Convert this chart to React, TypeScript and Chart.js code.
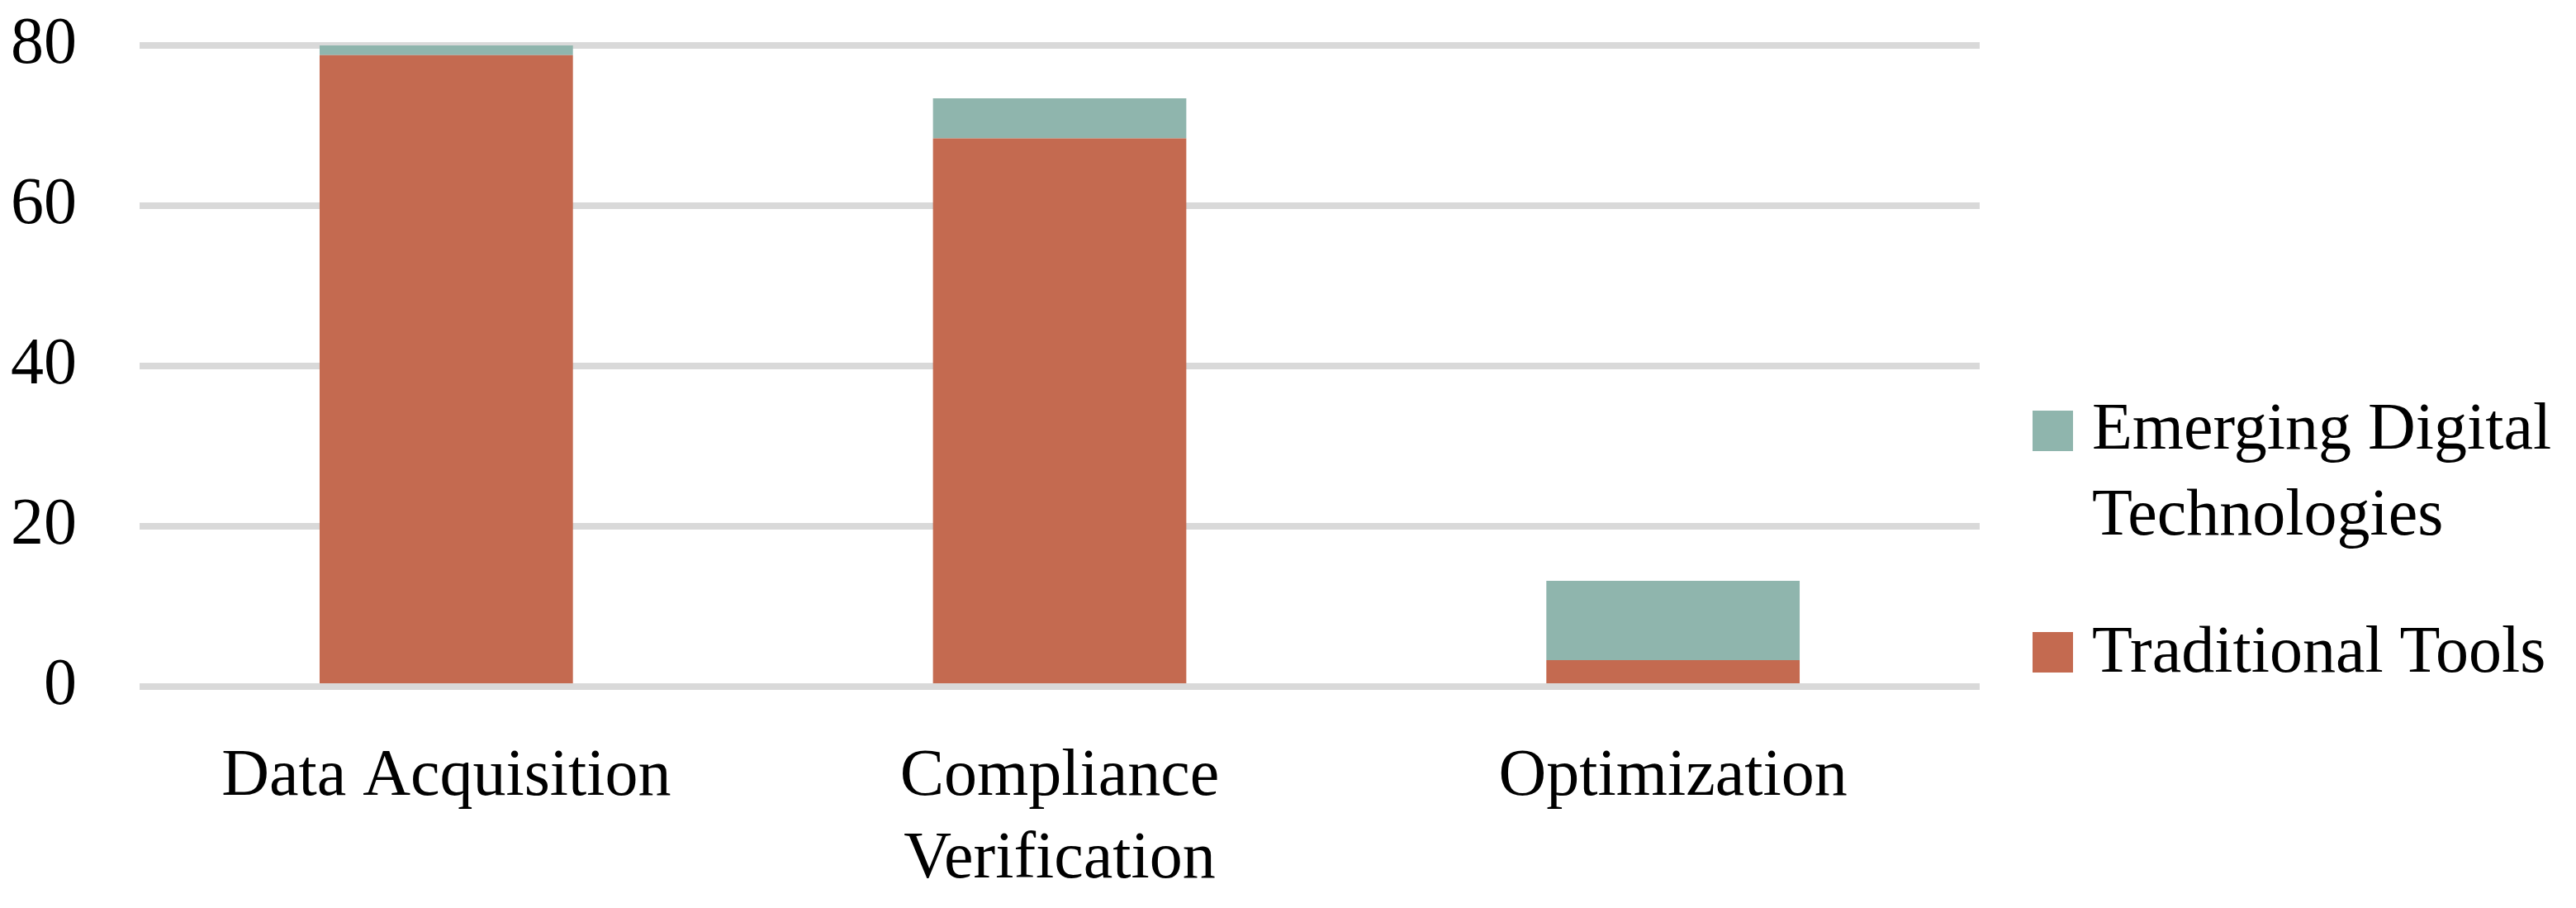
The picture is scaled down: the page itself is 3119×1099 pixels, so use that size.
import React, { useEffect, useRef } from "react";
import { Chart, registerables } from "chart.js";

Chart.register(...registerables);

const categories: (string | string[])[] = ["Data Acquisition", ["Compliance", "Verification"], "Optimization"];
const traditionalTools = [78.8, 68.4, 3.3];
const emergingDigital = [1.2, 5.0, 9.9];
const seriesNames = ["Traditional Tools", "Emerging Digital Technologies"];
const legendLines: string[][] = [["Emerging Digital", "Technologies"], ["Traditional Tools"]];
const yMin = 0;
const yMax = 80;
const yStep = 20;

const RED = "#C46A50";
const TEAL = "#8FB5AD";
const GRID = "#D9D9D9";
const FONT_FAMILY = "'Liberation Serif', 'DejaVu Serif', serif";
const FONT_SIZE = 80;

const legendPlugin = {
  id: "customLegend",
  afterDraw(chart: any) {
    const ctx = chart.ctx as CanvasRenderingContext2D;
    const area = chart.chartArea;
    const sq = 49;
    const sqX = area.right + 64;
    const txtX = area.right + 136;
    const items = [
      { color: TEAL, lines: legendLines[0], sqTop: 497, baseline: 543 },
      { color: RED, lines: legendLines[1], sqTop: 765, baseline: 813 },
    ];
    ctx.save();
    ctx.font = `${FONT_SIZE}px ${FONT_FAMILY}`;
    ctx.textAlign = "left";
    ctx.textBaseline = "alphabetic";
    for (const it of items) {
      ctx.fillStyle = it.color;
      ctx.fillRect(sqX, it.sqTop, sq, sq);
      ctx.fillStyle = "#000";
      it.lines.forEach((line, i) => {
        ctx.fillText(line, txtX, it.baseline + i * 104);
      });
    }
    ctx.restore();
  },
};

export default function App() {
  const canvasRef = useRef<HTMLCanvasElement | null>(null);

  useEffect(() => {
    const canvas = canvasRef.current;
    if (!canvas) return;
    const chart = new Chart(canvas, {
      type: "bar",
      data: {
        labels: categories,
        datasets: [
          {
            label: seriesNames[0],
            data: traditionalTools,
            backgroundColor: RED,
            borderWidth: 0,
            barPercentage: 0.413,
            categoryPercentage: 1,
          },
          {
            label: seriesNames[1],
            data: emergingDigital,
            backgroundColor: TEAL,
            borderWidth: 0,
            barPercentage: 0.413,
            categoryPercentage: 1,
          },
        ],
      },
      options: {
        responsive: false,
        animation: false,
        devicePixelRatio: 1,
        layout: { padding: { left: 0, top: 55, right: 722, bottom: 0 } },
        plugins: {
          legend: { display: false },
          tooltip: { enabled: false },
        },
        scales: {
          x: {
            stacked: true,
            grid: { display: false, drawTicks: false },
            border: { display: false },
            ticks: {
              color: "#000",
              font: { family: FONT_FAMILY, size: FONT_SIZE, lineHeight: 1.25 },
              padding: 60,
              maxRotation: 0,
              autoSkip: false,
            },
            afterFit: (scale: any) => {
              scale.height = 268;
              scale.paddingLeft = 0;
              scale.paddingRight = 0;
            },
          },
          y: {
            stacked: true,
            min: yMin,
            max: yMax,
            grid: { color: GRID, lineWidth: 8, drawTicks: false },
            border: { display: false },
            ticks: {
              stepSize: yStep,
              color: "#000",
              font: { family: FONT_FAMILY, size: FONT_SIZE },
              padding: 76,
            },
            afterFit: (scale: any) => {
              scale.width = 169;
              scale.paddingTop = 0;
              scale.paddingBottom = 0;
            },
          },
        },
      },
      plugins: [legendPlugin],
    });
    return () => chart.destroy();
  }, []);

  return (
    <div style={{ position: "absolute", left: 0, top: 0, width: 3119, height: 1099, background: "#fff" }}>
      <canvas ref={canvasRef} width={3119} height={1099} style={{ width: 3119, height: 1099, display: "block" }} />
    </div>
  );
}
